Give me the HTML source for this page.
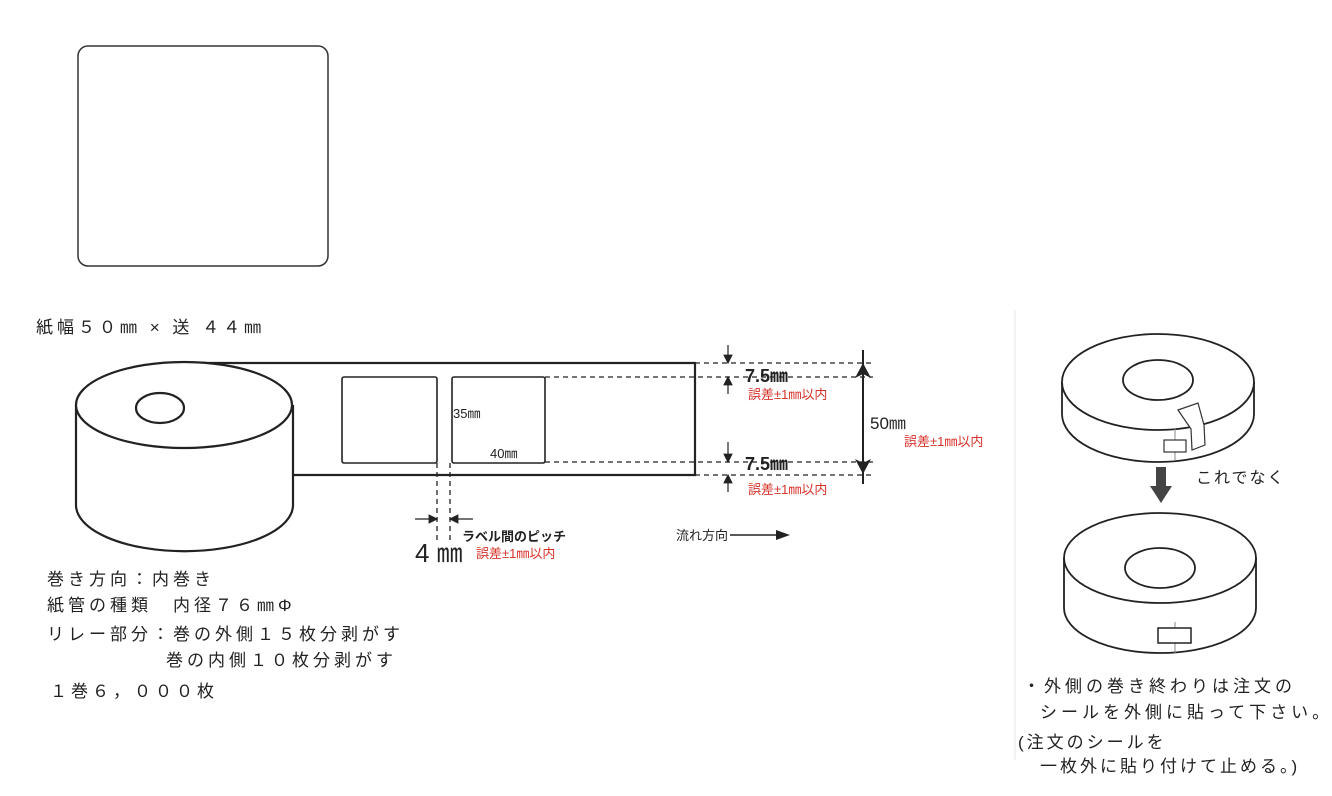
<!DOCTYPE html>
<html><head><meta charset="utf-8"><style>
html,body{margin:0;padding:0;background:#fff;width:1332px;height:796px;overflow:hidden}
svg{display:block}
text{font-family:"Liberation Sans","Noto Sans CJK JP",sans-serif;fill:#222}
.r{fill:#d8322a}
.b{font-weight:bold}
.L{letter-spacing:4px}
.R{letter-spacing:4px}
</style></head><body>
<svg width="1332" height="796" viewBox="0 0 1332 796" xmlns="http://www.w3.org/2000/svg">
<defs>
<marker id="ah" markerWidth="8" markerHeight="8" refX="7" refY="4" orient="auto"><path d="M0,0 L8,4 L0,8 z" fill="#222"/></marker>
</defs>
<rect x="78" y="46" width="250" height="220" rx="10" fill="none" stroke="#333" stroke-width="1.5"/>

<text x="36" y="333" font-size="17" class="L">紙幅５０㎜ × 送 ４４㎜</text>

<g fill="none" stroke="#222" stroke-width="2.2">
<path d="M184,363 L695,363 L695,475 L293,475"/>
<path d="M76,405 L76,505 A108,46 0 0 0 293,505 L293,405"/>
<ellipse cx="184" cy="405" rx="108" ry="43" fill="#fff"/>
<ellipse cx="160" cy="408" rx="24" ry="15"/>
<rect x="342" y="377" width="95" height="86" rx="2" stroke-width="1.6"/>
<rect x="452" y="377" width="93" height="86" rx="2" stroke-width="1.6"/>
</g>
<g stroke="#222" stroke-width="1.3" stroke-dasharray="5,4" fill="none">
<line x1="545" y1="377" x2="873" y2="377"/>
<line x1="545" y1="462" x2="873" y2="462"/>
<line x1="695" y1="363" x2="873" y2="363"/>
<line x1="695" y1="475" x2="873" y2="475"/>
<line x1="437" y1="463" x2="437" y2="542"/>
<line x1="450" y1="463" x2="450" y2="542"/>
</g>
<text x="453" y="418" font-size="13">35㎜</text>
<text x="490" y="458" font-size="13">40㎜</text>
<g stroke="#222" stroke-width="1.2">
<line x1="415" y1="519" x2="437" y2="519" marker-end="url(#ah)"/>
<line x1="473" y1="519" x2="450" y2="519" marker-end="url(#ah)"/>
<line x1="728" y1="345" x2="728" y2="363" marker-end="url(#ah)"/>
<line x1="728" y1="394" x2="728" y2="377" marker-end="url(#ah)"/>
<line x1="728" y1="442" x2="728" y2="462" marker-end="url(#ah)"/>
<line x1="728" y1="492" x2="728" y2="475" marker-end="url(#ah)"/>
</g>
<line x1="863" y1="350" x2="863" y2="484" stroke="#222" stroke-width="2"/>
<path d="M863,363 L855,378 L863,374 L871,378 z" fill="#222"/>
<path d="M863,474 L855,459 L863,463 L871,459 z" fill="#222"/>
<text x="462" y="541" font-size="13" class="b">ラベル間のピッチ</text>
<text x="415" y="562" font-size="26">4 ㎜</text>
<text x="476" y="558" font-size="13" class="r">誤差±1㎜以内</text>
<text x="745" y="382" font-size="18" class="b">7.5㎜</text>
<text x="748" y="399" font-size="13" class="r">誤差±1㎜以内</text>
<text x="745" y="470" font-size="18" class="b">7.5㎜</text>
<text x="748" y="494" font-size="13" class="r">誤差±1㎜以内</text>
<text x="870" y="429" font-size="17">50㎜</text>
<text x="904" y="446" font-size="13" class="r">誤差±1㎜以内</text>
<text x="676" y="540" font-size="13">流れ方向</text>
<line x1="730" y1="535" x2="780" y2="535" stroke="#222" stroke-width="1.5"/>
<path d="M790,535 L776,530 L776,540 z" fill="#222"/>

<text x="47" y="585" font-size="17" class="L">巻き方向：内巻き</text>
<text x="47" y="611" font-size="17" class="L">紙管の種類　内径７６㎜Φ</text>
<text x="47" y="640" font-size="17" class="L">リレー部分：巻の外側１５枚分剥がす</text>
<text x="166" y="666" font-size="17" class="L">巻の内側１０枚分剥がす</text>
<text x="50" y="697" font-size="17" class="L">１巻６，０００枚</text>

<line x1="1015" y1="310" x2="1015" y2="760" stroke="#e4e4e4" stroke-width="1"/>

<g fill="none" stroke="#222" stroke-width="1.8">
<path d="M1062,382 L1062,414 A96,48 0 0 0 1254,414 L1254,382"/>
<ellipse cx="1158" cy="382" rx="96" ry="48" fill="#fff"/>
<ellipse cx="1158" cy="380" rx="35" ry="20"/>
</g>
<line x1="1175" y1="428" x2="1175" y2="460" stroke="#888" stroke-width="1"/>
<rect x="1164" y="440" width="22" height="12" fill="#fff" stroke="#333" stroke-width="1.2"/>
<path d="M1178,410 L1198,403 L1204,425 L1205,445 L1192,450 L1191,429 z" fill="#fff" stroke="#333" stroke-width="1.2"/>
<text x="1196" y="483" font-size="16" style="letter-spacing:2px">これでなく</text>
<rect x="1156" y="467" width="10" height="20" fill="#444"/>
<path d="M1150,486 L1172,486 L1161,503 z" fill="#444"/>

<g fill="none" stroke="#222" stroke-width="1.8">
<path d="M1064,558 L1064,608 A96,45 0 0 0 1256,608 L1256,558"/>
<ellipse cx="1160" cy="558" rx="96" ry="45" fill="#fff"/>
<ellipse cx="1160" cy="568" rx="35" ry="20"/>
</g>
<line x1="1175" y1="622" x2="1175" y2="653" stroke="#888" stroke-width="1"/>
<rect x="1158" y="628" width="33" height="15" fill="#fff" stroke="#222" stroke-width="1.5"/>

<text x="1023" y="692" font-size="17" class="R">・外側の巻き終わりは注文の</text>
<text x="1040" y="718" font-size="17" class="R">シールを外側に貼って下さい。</text>
<text x="1018" y="748" font-size="17" style="letter-spacing:3px">(注文のシールを</text>
<text x="1040" y="772" font-size="17" style="letter-spacing:3px">一枚外に貼り付けて止める。)</text>
</svg>
</body></html>
